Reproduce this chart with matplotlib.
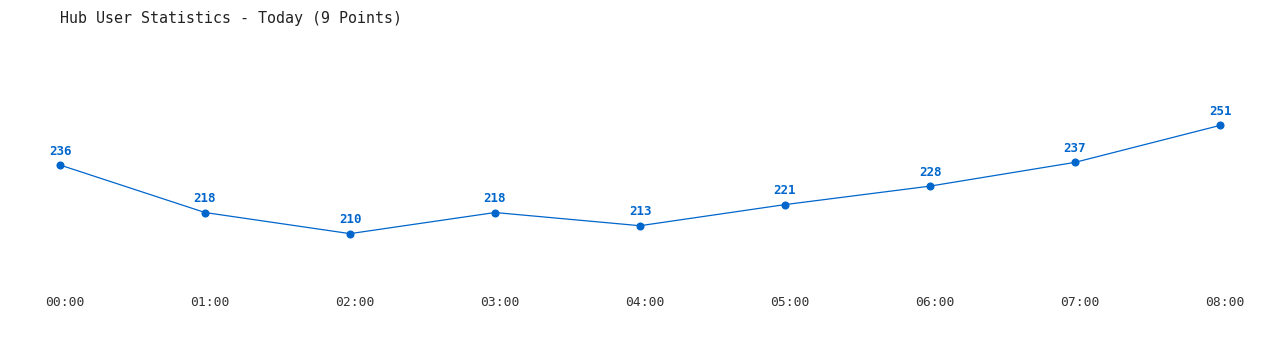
import matplotlib.pyplot as plt
import matplotlib.transforms as mtransforms

hours = ["00:00", "01:00", "02:00", "03:00", "04:00", "05:00", "06:00", "07:00", "08:00"]
users = [236, 218, 210, 218, 213, 221, 228, 237, 251]

blue = "#0066cc"
mono = "DejaVu Sans Mono"

fig = plt.figure(figsize=(12.8, 3.5), dpi=100)
ax = fig.add_axes([0, 0, 1, 1])

x = list(range(len(hours)))
ax.plot(x, users, color=blue, linewidth=0.9, marker="o", markersize=4.8)

for xi, v in zip(x, users):
    ax.annotate(str(v), (xi, v), xytext=(0, 10), textcoords="offset points",
                ha="center", va="center", fontsize=9, fontweight="bold",
                color=blue, family=mono)

# hour labels along the bottom, slightly right of each point like the original
trans = mtransforms.blended_transform_factory(ax.transData, ax.transAxes)
shift = mtransforms.ScaledTranslation(5 / 100, 0, fig.dpi_scale_trans)
for xi, lab in zip(x, hours):
    ax.text(xi, 1 - 302 / 350, lab, transform=trans + shift, ha="center",
            va="center", fontsize=9.4, color="#333333", family=mono)

ax.set_xlim(-60 / 145, 8 + 60 / 145)
ax.set_ylim(236 - 185 / 2.64, 236 + 165 / 2.64)
ax.axis("off")

fig.text(60 / 1280, 1 - 18 / 350, "Hub User Statistics - Today (9 Points)",
         ha="left", va="center", fontsize=10.8, color="#222222", family=mono)

fig.savefig("out.png", dpi=100)
